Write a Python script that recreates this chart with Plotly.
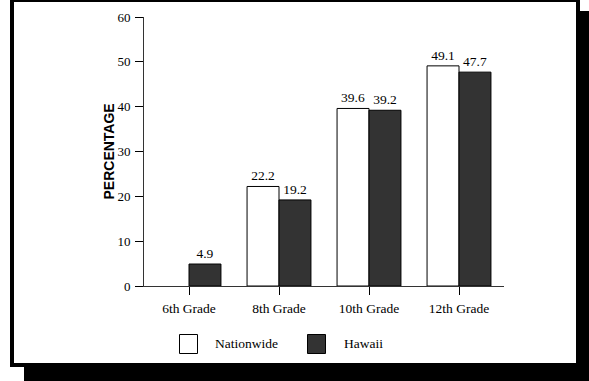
import plotly.graph_objects as go

# Data
grades = ["6th Grade", "8th Grade", "10th Grade", "12th Grade"]
nationwide = [None, 22.2, 39.6, 49.1]
hawaii = [4.9, 19.2, 39.2, 47.7]
y_ticks = [0, 10, 20, 30, 40, 50, 60]

W, H = 589, 381
ML, MR, MT, MB = 144, 85, 17, 95
PW, PH = W - ML - MR, H - MT - MB

SERIF = "Liberation Serif, Times New Roman, serif"
SANS = "Liberation Sans, Arial, sans-serif"


def px_x(p):
    return (p - ML) / PW


def px_y(p):
    return (H - MB - p) / PH


def fmt(v):
    return "" if v is None else f"{v:.1f}"


fig = go.Figure()
fig.add_trace(go.Bar(
    x=grades, y=nationwide, name="Nationwide",
    marker=dict(color="white", line=dict(color="black", width=1)),
    text=[fmt(v) for v in nationwide], textposition="outside",
    textfont=dict(family=SERIF, size=13.5, color="black"),
    constraintext="none", cliponaxis=False,
))
fig.add_trace(go.Bar(
    x=grades, y=hawaii, name="Hawaii",
    marker=dict(color="#333333", line=dict(color="black", width=1)),
    text=[fmt(v) for v in hawaii], textposition="outside",
    textfont=dict(family=SERIF, size=13.5, color="black"),
    constraintext="none", cliponaxis=False,
))

shapes = [
    # drop shadow behind the panel
    dict(type="rect", xref="paper", yref="paper", layer="below",
         x0=px_x(24), x1=px_x(620), y0=px_y(420), y1=px_y(11),
         fillcolor="black", line=dict(width=0)),
    # white panel with heavy border
    dict(type="rect", xref="paper", yref="paper", layer="below",
         x0=px_x(12), x1=px_x(578), y0=px_y(365), y1=px_y(0),
         fillcolor="white", line=dict(color="black", width=4)),
    # legend swatches
    dict(type="rect", xref="paper", yref="paper",
         x0=px_x(179.5), x1=px_x(197.5), y0=px_y(353.5), y1=px_y(334.5),
         fillcolor="white", line=dict(color="black", width=1)),
    dict(type="rect", xref="paper", yref="paper",
         x0=px_x(307.5), x1=px_x(325.5), y0=px_y(353.5), y1=px_y(334.5),
         fillcolor="#333333", line=dict(color="black", width=1)),
]

annotations = [
    dict(text="Nationwide", xref="paper", yref="paper", x=px_x(213), y=px_y(343),
         xanchor="left", yanchor="middle", showarrow=False,
         font=dict(family=SERIF, size=13.5, color="black")),
    dict(text="Hawaii", xref="paper", yref="paper", x=px_x(342), y=px_y(343),
         xanchor="left", yanchor="middle", showarrow=False,
         font=dict(family=SERIF, size=13.5, color="black")),
    dict(text="<b>PERCENTAGE</b>", xref="paper", yref="paper", x=px_x(108), y=0.5,
         xanchor="center", yanchor="middle", textangle=-90, showarrow=False,
         font=dict(family=SANS, size=14, color="black")),
]

fig.update_layout(
    width=W, height=H,
    margin=dict(l=ML, r=MR, t=MT, b=MB, autoexpand=False),
    paper_bgcolor="white", plot_bgcolor="rgba(0,0,0,0)",
    barmode="group", bargap=0.29, bargroupgap=0,
    showlegend=False,
    shapes=shapes, annotations=annotations,
    xaxis=dict(
        type="category", range=[-0.5, 3.5],
        showline=True, linecolor="#333333", linewidth=1,
        ticks="outside", ticklen=8, tickcolor="black", tickwidth=1,
        showgrid=False, zeroline=False,
        tickfont=dict(family=SERIF, size=13.5, color="black"),
        ticklabelstandoff=2,
    ),
    xaxis2=dict(
        overlaying="x", anchor="y", side="bottom", range=[-0.5, 3.5],
        tickmode="array", tickvals=[0.5, 1.5, 2.5, 3.5],
        ticks="outside", ticklen=2, tickcolor="black", tickwidth=2,
        showticklabels=False, showgrid=False, showline=False, zeroline=False,
    ),
    yaxis=dict(
        range=[0, 60], tickmode="array", tickvals=y_ticks,
        showline=True, linecolor="#333333", linewidth=1,
        ticks="outside", ticklen=8, tickcolor="black", tickwidth=1,
        showgrid=False, zeroline=False,
        tickfont=dict(family=SERIF, size=13, color="black"),
        ticklabelstandoff=2,
    ),
)

fig.write_html("out.html")
